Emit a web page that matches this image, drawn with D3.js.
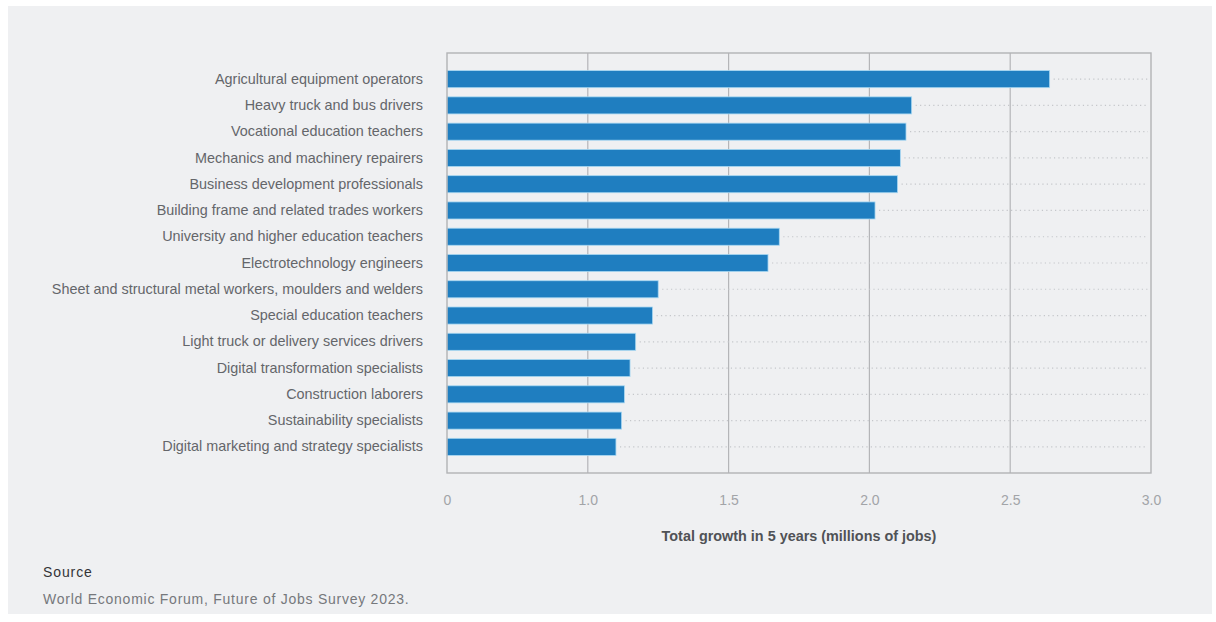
<!DOCTYPE html>
<html>
<head>
<meta charset="utf-8">
<script src="https://cdn.jsdelivr.net/npm/d3@7"></script>
<style>
  html, body { margin: 0; padding: 0; background: #ffffff; }
  svg { display: block; }
</style>
</head>
<body>
<svg id="chart" width="1216" height="622"></svg>
<script>
// Occupations with the largest expected job growth (millions of jobs, 5 years)
const categories = [
  "Agricultural equipment operators",
  "Heavy truck and bus drivers",
  "Vocational education teachers",
  "Mechanics and machinery repairers",
  "Business development professionals",
  "Building frame and related trades workers",
  "University and higher education teachers",
  "Electrotechnology engineers",
  "Sheet and structural metal workers, moulders and welders",
  "Special education teachers",
  "Light truck or delivery services drivers",
  "Digital transformation specialists",
  "Construction laborers",
  "Sustainability specialists",
  "Digital marketing and strategy specialists"
];
const growth = [2.64, 2.15, 2.13, 2.11, 2.10, 2.02, 1.68, 1.64, 1.25, 1.23, 1.17, 1.15, 1.13, 1.12, 1.10];

const tickValues = [0.5, 1.0, 1.5, 2.0, 2.5, 3.0];
const tickLabels = ["0", "1.0", "1.5", "2.0", "2.5", "3.0"];

const axisTitle = "Total growth in 5 years (millions of jobs)";
const sourceHeading = "Source";
const sourceText = "World Economic Forum, Future of Jobs Survey 2023.";

const svg = d3.select("#chart");
const font = "'Liberation Sans', Arial, Helvetica, sans-serif";

// panel background
svg.append("rect")
  .attr("x", 8).attr("y", 6)
  .attr("width", 1204).attr("height", 608)
  .attr("fill", "#eff0f2");

const plot = { left: 447, right: 1151, top: 53, bottom: 473 };

const x = d3.scaleLinear()
  .domain([0.5, 3.0])
  .range([plot.left, plot.right]);

// bands: 15 rows, centres evenly spaced inside the frame
const y = d3.scaleBand()
  .domain(categories)
  .range([66, 460])
  .paddingInner(0.35)
  .paddingOuter(0.175);

const g = svg.append("g");

// vertical grid lines
g.append("g")
  .selectAll("line")
  .data(tickValues.slice(1, -1))
  .join("line")
  .attr("x1", d => x(d)).attr("x2", d => x(d))
  .attr("y1", plot.top).attr("y2", plot.bottom)
  .attr("stroke", "#b4b5b8")
  .attr("stroke-width", 1.2);

// dotted leaders from bar end to the right edge
g.append("g")
  .selectAll("line")
  .data(categories)
  .join("line")
  .attr("x1", (d, i) => x(growth[i]) + 4)
  .attr("x2", plot.right - 3)
  .attr("y1", d => y(d) + y.bandwidth() / 2)
  .attr("y2", d => y(d) + y.bandwidth() / 2)
  .attr("stroke", "#c4c6ca")
  .attr("stroke-width", 1.2)
  .attr("stroke-dasharray", "1.2,3.2");

// bars
g.append("g")
  .selectAll("rect")
  .data(categories)
  .join("rect")
  .attr("x", x(0.5))
  .attr("y", d => y(d))
  .attr("width", (d, i) => x(growth[i]) - x(0.5))
  .attr("height", y.bandwidth())
  .attr("fill", "#1f7ec0")
  .attr("stroke", "#a9d8f2")
  .attr("stroke-width", 0.8);

// plot frame
g.append("rect")
  .attr("x", plot.left).attr("y", plot.top)
  .attr("width", plot.right - plot.left)
  .attr("height", plot.bottom - plot.top)
  .attr("fill", "none")
  .attr("stroke", "#b2b3b6")
  .attr("stroke-width", 1.4);

// category labels
const yAxis = d3.axisLeft(y).tickSize(0).tickPadding(24);
const ya = svg.append("g")
  .attr("transform", `translate(${plot.left},0)`)
  .call(yAxis);
ya.select(".domain").remove();
ya.selectAll("text")
  .attr("font-family", font)
  .attr("font-size", 14.4)
  .attr("fill", "#64666a");

// x tick labels
const xAxis = d3.axisBottom(x)
  .tickValues(tickValues)
  .tickFormat((d, i) => tickLabels[i])
  .tickSize(0)
  .tickPadding(22);
const xa = svg.append("g")
  .attr("transform", `translate(0,${plot.bottom})`)
  .call(xAxis);
xa.select(".domain").remove();
xa.selectAll("text")
  .attr("font-family", font)
  .attr("font-size", 14)
  .attr("fill", "#a2a4a8");

// axis title
svg.append("text")
  .attr("x", (plot.left + plot.right) / 2)
  .attr("y", 541)
  .attr("text-anchor", "middle")
  .attr("font-family", font)
  .attr("font-size", 14.4)
  .attr("font-weight", "bold")
  .attr("fill", "#505256")
  .text(axisTitle);

// source note
svg.append("text")
  .attr("x", 43).attr("y", 577)
  .attr("font-family", font)
  .attr("font-size", 14)
  .attr("letter-spacing", 0.9)
  .attr("fill", "#333437")
  .text(sourceHeading);
svg.append("text")
  .attr("x", 43).attr("y", 604)
  .attr("font-family", font)
  .attr("font-size", 14)
  .attr("letter-spacing", 0.75)
  .attr("fill", "#76787c")
  .text(sourceText);
</script>
</body>
</html>
